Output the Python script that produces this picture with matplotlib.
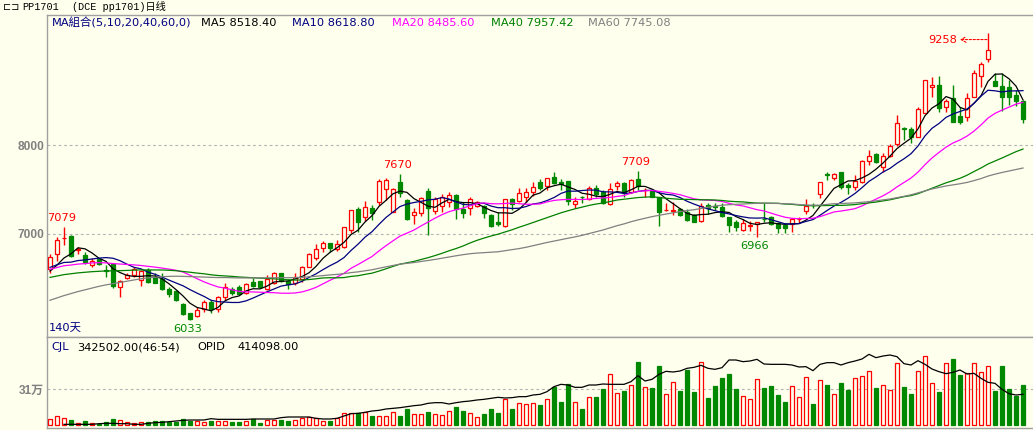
import numpy as np
import pandas as pd
import matplotlib
matplotlib.use('Agg')
import matplotlib.pyplot as plt
from matplotlib.transforms import offset_copy

# ---------------- data ----------------
opens = [6603, 6771, 6950, 6977, 6820, 6764, 6651, 6715, 6592, 6663,
         6400, 6502, 6539, 6483, 6595, 6520, 6490, 6382, 6359, 6209,
         6108, 6078, 6157, 6235, 6157, 6296, 6382, 6400, 6341, 6460,
         6472, 6378, 6445, 6558, 6475, 6445, 6490, 6633, 6726, 6846,
         6895, 6827, 6858, 7045, 7281, 7195, 7288, 7356, 7502, 7251,
         7580, 7382, 7210, 7240, 7480, 7262, 7318, 7363, 7438, 7281,
         7288, 7318, 7315, 7213, 7138, 7090, 7390, 7371, 7420, 7476,
         7581, 7543, 7637, 7588, 7596, 7333, 7420, 7393, 7513, 7476,
         7337, 7540, 7577, 7468, 7618, 7490, 7495, 7412, 7266, 7262,
         7277, 7251, 7213, 7150, 7326, 7310, 7307, 7187, 7138, 7045,
         7090, 7108, 7172, 7187, 7127, 7101, 7112, 7165, 7258, 7330,
         7450, 7671, 7626, 7700, 7550, 7525, 7588, 7824, 7899, 7757,
         7880, 8012, 8187, 8176, 8094, 8364, 8648, 8674, 8431, 8532,
         8326, 8319, 8544, 8780, 8963, 8720, 8664, 8648, 8562, 8495]
highs = [6775, 6970, 7079, 6985, 6850, 6798, 6726, 6734, 6651, 6670,
         6480, 6565, 6633, 6595, 6621, 6558, 6558, 6408, 6370, 6228,
         6116, 6176, 6258, 6258, 6303, 6445, 6408, 6425, 6445, 6502,
         6475, 6535, 6573, 6565, 6490, 6558, 6640, 6783, 6888, 6921,
         6895, 6932, 7075, 7270, 7307, 7371, 7326, 7615, 7626, 7520,
         7670, 7390, 7288, 7420, 7513, 7420, 7445, 7468, 7445, 7356,
         7420, 7371, 7326, 7225, 7251, 7397, 7401, 7520, 7513, 7581,
         7615, 7633, 7693, 7615, 7600, 7420, 7427, 7540, 7550, 7494,
         7577, 7596, 7588, 7618, 7709, 7520, 7502, 7420, 7352, 7363,
         7288, 7277, 7225, 7344, 7344, 7352, 7352, 7195, 7157, 7165,
         7146, 7138, 7352, 7202, 7138, 7120, 7183, 7195, 7390, 7344,
         7588, 7700, 7690, 7700, 7570, 7663, 7832, 7944, 7906, 7906,
         8012, 8338, 8199, 8199, 8424, 8731, 8768, 8776, 8514, 8675,
         8424, 8589, 8843, 8937, 9258, 8806, 8806, 8731, 8619, 8506]
lows = [6565, 6696, 6876, 6745, 6771, 6663, 6625, 6651, 6520, 6390,
        6296, 6490, 6520, 6419, 6445, 6445, 6370, 6296, 6250, 6090,
        6033, 6063, 6120, 6108, 6120, 6258, 6314, 6310, 6326, 6400,
        6389, 6370, 6434, 6457, 6378, 6430, 6460, 6625, 6707, 6801,
        6794, 6809, 6846, 7007, 7026, 7150, 7157, 7326, 7382, 7247,
        7420, 7160, 7112, 7206, 6989, 7225, 7250, 7307, 7168, 7176,
        7213, 7307, 7176, 7075, 7090, 7082, 7270, 7363, 7363, 7427,
        7494, 7494, 7558, 7494, 7326, 7288, 7352, 7382, 7420, 7337,
        7326, 7494, 7420, 7457, 7494, 7412, 7412, 7090, 7262, 7213,
        7202, 7146, 7131, 7138, 7225, 7270, 7195, 7026, 7037, 7037,
        7037, 6966, 7138, 7101, 7015, 7015, 7026, 7120, 7225, 7288,
        7401, 7607, 7607, 7502, 7450, 7494, 7570, 7775, 7794, 7700,
        7869, 7993, 8056, 8019, 8094, 8356, 8544, 8368, 8375, 8255,
        8233, 8270, 8544, 8656, 8937, 8664, 8382, 8450, 8439, 8244]
closes = [6745, 6932, 6960, 6756, 6830, 6689, 6700, 6663, 6580, 6420,
          6472, 6539, 6607, 6584, 6457, 6453, 6382, 6326, 6258, 6101,
          6044, 6146, 6239, 6153, 6296, 6408, 6333, 6330, 6434, 6419,
          6400, 6490, 6558, 6475, 6438, 6513, 6625, 6771, 6831, 6895,
          6846, 6884, 7075, 7270, 7139, 7307, 7240, 7596, 7607, 7510,
          7457, 7168, 7244, 7401, 7295, 7390, 7420, 7438, 7277, 7240,
          7390, 7360, 7240, 7090, 7108, 7390, 7333, 7464, 7468, 7525,
          7513, 7626, 7577, 7558, 7371, 7371, 7412, 7521, 7450, 7344,
          7502, 7570, 7457, 7607, 7543, 7495, 7420, 7251, 7270, 7270,
          7213, 7157, 7138, 7315, 7288, 7305, 7202, 7101, 7082, 7120,
          7094, 7138, 7168, 7112, 7064, 7064, 7168, 7170, 7315, 7325,
          7581, 7667, 7674, 7525, 7532, 7599, 7820, 7877, 7813, 7877,
          7989, 8244, 8177, 8094, 8401, 8731, 8674, 8420, 8495, 8263,
          8263, 8525, 8806, 8911, 9068, 8664, 8544, 8536, 8499, 8293]
# closes before the visible window (only feed the moving averages)
prior_closes = [5350, 5400, 5420, 5450, 5500, 5480, 5550, 5600, 5580, 5650,
                5700, 5750, 5800, 5900, 5980, 6050, 6100, 6150, 6180, 6250,
                6300, 6350, 6380, 6420, 6400, 6450, 6480, 6430, 6400, 6380,
                6420, 6460, 6500, 6470, 6440, 6420, 6460, 6450, 6430, 6400,
                6520, 6560, 6600, 6620, 6580, 6550, 6600, 6620, 6590, 6570,
                6640, 6700, 6720, 6650, 6620,
                6600, 6560, 6520, 6495]
volumes = [51700, 77500, 57400, 43100, 14400, 34400, 14400, 11500, 23000, 51700,
           43100, 23000, 14400, 23000, 23000, 34400, 34400, 28700, 23000, 48800,
           34400, 34400, 23000, 34400, 34400, 34400, 23000, 23000, 34400, 48800,
           14400, 43100, 43100, 43100, 34400, 43100, 63100, 68900, 57400, 34400,
           34400, 63100, 100500, 100500, 100500, 109100, 80400, 80400, 80400, 109100,
           80400, 137800, 91900, 91900, 109100, 91900, 86100, 120600, 157900, 120600,
           100500, 71800, 91900, 137800, 100500, 223900, 137800, 186600, 178000, 186600,
           172200, 221000, 330100, 195200, 350200, 195200, 137800, 238200, 241100, 310000,
           436300, 272700, 292800, 341600, 545400, 324400, 321500, 508000, 264100, 367400,
           292800, 473600, 281300, 539600, 235400, 335800, 401900, 436300, 310000, 249700,
           221000, 396100, 321500, 335800, 258300, 195200, 335800, 241100, 410500, 180800,
           387500, 344400, 264100, 358800, 301400, 401900, 421900, 465000, 321500, 344400,
           301400, 531000, 327200, 266900, 465000, 594200, 358800, 281300, 533900, 568300,
           430600, 444900, 531000, 453500, 508000, 292800, 508000, 312900, 249700, 342502]
opid = [np.nan, np.nan, 155500, 155500, 155500, 155500, 155500, 161200, 164100, 164100,
        161200, 161200, 155500, 155500, 164100, 169800, 172700, 178450, 184200, 189900,
        192800, 192800, 192800, 204300, 198500, 198500, 198500, 198500, 198500, 201400,
        201400, 201400, 201400, 212900, 218600, 218600, 218600, 218600, 207150, 201400,
        201400, 207150, 227300, 247300, 250200, 258800, 270300, 276000, 287500, 293300,
        299000, 307600, 316200, 322000, 336300, 342000, 342000, 330600, 342000, 350700,
        356400, 365000, 370800, 379400, 388000, 382250, 385100, 393700, 393700, 408100,
        413800, 436800, 479800, 499900, 494200, 474100, 474100, 494200, 494200, 502800,
        499900, 499900, 499900, 522900, 574600, 528600, 543000, 586000, 611900, 606100,
        614700, 637700, 646300, 663500, 637700, 629100, 643440, 709450, 709450, 695100,
        700850, 715200, 675000, 672150, 672150, 672150, 666400, 649200, 652050, 617600,
        672150, 686500, 686500, 666400, 686500, 700850, 718100, 758250, 729550, 743900,
        752500, 738150, 677900, 666400, 703700, 672150, 631950, 609000, 591800, 603300,
        623350, 588900, 594600, 551600, 517150, 508500, 456900, 419550, 408100, 414098]
ma_periods = [5, 10, 20, 40, 60]
ma_colors = ['#000000', '#000080', '#FF00FF', '#008000', '#808080']
price_ticks = [7000, 8000]
vol_tick = 310000
extremes = [(2, 'high', '7079'), (20, 'low', '6033'), (50, 'high', '7670'),
            (84, 'high', '7709'), (101, 'low', '6966')]
peak_idx = 134

# ---------------- style ----------------
W, H = 1033, 430
BG = '#FFFFEE'
RED = '#FF0000'
GREEN = '#008800'
AXC = '#A0A0A0'
GRID = '#B4B4B4'
LBL = '#808080'
FONT = ['DejaVu Sans', 'Noto Sans CJK SC']

o = np.array(opens, float); h = np.array(highs, float)
l = np.array(lows, float); c = np.array(closes, float)
v = np.array(volumes, float); oi = np.array(opid, float)
n = len(c)
x = np.arange(n)
up = c >= o

allc = pd.Series(list(prior_closes) + list(closes), dtype=float)
mas = [allc.rolling(p).mean().to_numpy()[-n:] for p in ma_periods]

fig = plt.figure(figsize=(W / 100, H / 100), dpi=100, facecolor=BG)

def fx(px):
    return px / W

def fy(py):
    return 1 - py / H

ax = fig.add_axes([fx(47), fy(337), fx(1033) - fx(47), fy(15) - fy(337)])
axv = fig.add_axes([fx(47), fy(428), fx(1033) - fx(47), fy(337) - fy(428)])
for a in (ax, axv):
    a.set_facecolor(BG)
    a.set_xlim(-3 / 7, 983 / 7)
    a.set_xticks([])
    for s in a.spines.values():
        s.set_color(AXC)
        s.set_linewidth(1)
    a.spines['right'].set_visible(False)

# price panel
ppx = 1000 / 89.0
ax.set_ylim(7000 - (337 - 234) * ppx, 8000 + (145 - 15) * ppx)
ax.set_yticks(price_ticks)
ax.set_yticklabels([str(t) for t in price_ticks], fontfamily='Liberation Sans',
                   fontweight='bold', fontsize=8.6, color=LBL)
ax.tick_params(axis='y', length=0, pad=2)
for t in price_ticks:
    ax.axhline(t, color=GRID, lw=0.8, ls=(0, (2.5, 2.5)), zorder=1)

cols = np.where(up, RED, GREEN)
ax.vlines(x, l, h, colors=cols, lw=1.0, zorder=2)
bb = np.minimum(o, c)
bh = np.maximum(np.abs(c - o), 6)
ax.bar(x[up], bh[up], bottom=bb[up], width=0.68, facecolor=BG, edgecolor=RED,
       lw=0.9, zorder=3)
ax.bar(x[~up], bh[~up], bottom=bb[~up], width=0.68, facecolor=GREEN,
       edgecolor=GREEN, lw=0.9, zorder=3)
for m, col in zip(mas, ma_colors):
    ax.plot(x, m, color=col, lw=0.9, zorder=4)

# extreme labels
for i, kind, txt in extremes:
    if kind == 'high':
        ax.annotate(txt, xy=(i, h[i]), xytext=(-2.5, 9), textcoords='offset pixels',
                    ha='center', va='center', color=RED, fontsize=8.2, family=FONT)
    else:
        ax.annotate(txt, xy=(i, l[i]), xytext=(-2.5, -9), textcoords='offset pixels',
                    ha='center', va='center', color=GREEN, fontsize=8.2, family=FONT)
ax.annotate(str(int(h[peak_idx])), xy=(peak_idx, h[peak_idx]), xytext=(-45.5, -7),
            textcoords='offset pixels', ha='center', va='center', color=RED,
            fontsize=8.2, family=FONT)
head_tr = offset_copy(ax.transData, fig=fig, x=-28, y=-6.5, units='dots')
tail_tr = offset_copy(ax.transData, fig=fig, x=-1, y=-6.5, units='dots')
ax.annotate('', xy=(peak_idx, h[peak_idx]), xycoords=head_tr,
            xytext=(peak_idx, h[peak_idx]), textcoords=tail_tr,
            arrowprops=dict(arrowstyle='->,head_length=0.35,head_width=0.2',
                            color=RED, lw=0.8, linestyle=(0, (2, 1.5)),
                            shrinkA=0, shrinkB=0))

# volume panel
vpx = vol_tick / 36.0
axv.set_ylim(-3 * vpx, 88 * vpx)
axv.set_yticks([vol_tick])
axv.set_yticklabels(['31万'], fontfamily=['Liberation Sans', 'Noto Sans CJK SC'],
                    fontweight='bold', fontsize=8.6, color=LBL)
axv.tick_params(axis='y', length=0, pad=2)
axv.axhline(vol_tick, color=GRID, lw=0.8, ls=(0, (2.5, 2.5)), zorder=1)
axv.bar(x[up], v[up], width=0.68, facecolor=BG, edgecolor=RED, lw=0.9, zorder=3)
axv.bar(x[~up], v[~up], width=0.68, facecolor=GREEN, edgecolor=GREEN, lw=0.9, zorder=3)
axo = axv.twinx()
axo.set_ylim(149740 - 3 * vpx, 149740 + 88 * vpx)
axo.axis('off')
axo.plot(x, oi, color='#000000', lw=0.9, zorder=4)

# header texts
fig.text(fx(3), fy(7), '\u228f\u2290', fontsize=7, color='#000000', va='center',
         family=FONT)
fig.text(fx(22), fy(7), 'PP1701', fontsize=7.3, family=['Liberation Mono', 'Noto Sans CJK SC'],
         va='center', color='#000000')
fig.text(fx(72), fy(7), '(DCE pp1701)日线', fontsize=7.3,
         family=['Liberation Mono', 'Noto Sans CJK SC'], va='center', color='#000000')
legend_items = [(51.5, 'MA組合(5,10,20,40,60,0)', '#000080'),
                (201, 'MA5 8518.40', ma_colors[0]),
                (292.5, 'MA10 8618.80', ma_colors[1]),
                (391.5, 'MA20 8485.60', ma_colors[2]),
                (491, 'MA40 7957.42', ma_colors[3]),
                (588, 'MA60 7745.08', ma_colors[4])]
for px_, txt, col in legend_items:
    fig.text(fx(px_), fy(23), txt, fontsize=8.2, family=FONT, color=col, va='center')
fig.text(fx(49), fy(327.5), '140天', fontsize=8.2, family=FONT, color='#000080',
         va='center')
fig.text(fx(51.5), fy(347), 'CJL', fontsize=8.2, family=FONT, color='#000080', va='center')
fig.text(fx(77.5), fy(347), '342502.00(46:54)', fontsize=8.2, family=FONT,
         color='#000000', va='center')
fig.text(fx(197.5), fy(347), 'OPID', fontsize=8.2, family=FONT, color='#000000', va='center')
fig.text(fx(238), fy(347), '414098.00', fontsize=8.2, family=FONT, color='#000000',
         va='center')

fig.savefig('out.png', dpi=100, facecolor=BG)
